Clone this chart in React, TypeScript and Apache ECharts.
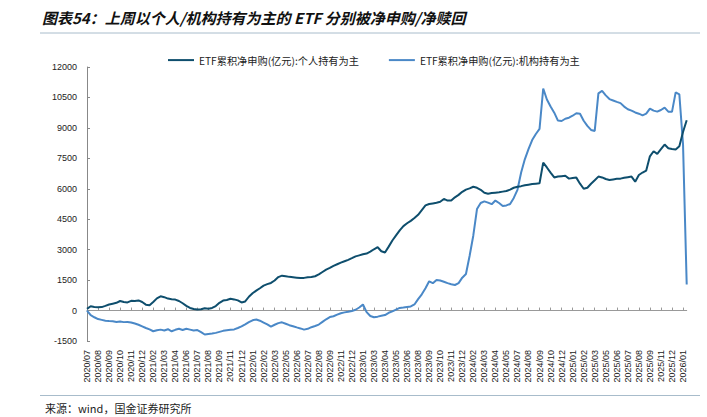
import React, { useEffect, useRef } from 'react';
import * as echarts from 'echarts';

const tickLabels: string[] = [
  '2020/07', '2020/08', '2020/09', '2020/10', '2020/11', '2020/12', '2021/02', '2021/03', '2021/04', '2021/06',
  '2021/07', '2021/08', '2021/09', '2021/11', '2021/12', '2022/01', '2022/02', '2022/03', '2022/05', '2022/06',
  '2022/07', '2022/08', '2022/09', '2022/11', '2022/12', '2023/01', '2023/03', '2023/04', '2023/05', '2023/06',
  '2023/08', '2023/09', '2023/10', '2023/11', '2023/12', '2024/02', '2024/03', '2024/04', '2024/05', '2024/07',
  '2024/08', '2024/09', '2024/10', '2024/12', '2025/01', '2025/02', '2025/03', '2025/05', '2025/06', '2025/07',
  '2025/08', '2025/09', '2025/11', '2025/12', '2026/01',
];

// ETF累积净申购(亿元):个人持有为主
const individual: number[] = [
  80, 210, 180, 160, 170, 230, 300, 340, 380, 470,
  420, 400, 480, 470, 500, 420, 290, 260, 420, 600,
  700, 660, 590, 560, 540, 470, 360, 230, 130, 80,
  50, 60, 110, 90, 130, 220, 380, 490, 520, 580,
  550, 500, 400, 450, 680, 850, 980, 1100, 1230, 1300,
  1360, 1480, 1650, 1720, 1690, 1660, 1640, 1620, 1600, 1610,
  1640, 1650, 1690, 1780, 1900, 2020, 2100, 2200, 2280, 2360,
  2430, 2500, 2580, 2670, 2720, 2770, 2810, 2900, 3020, 3120,
  2920, 2860, 3150, 3450, 3700, 3950, 4160, 4300, 4420, 4560,
  4720, 4950, 5180, 5250, 5280, 5310, 5360, 5500, 5420, 5420,
  5580, 5700, 5850, 5960, 6020, 6100, 6050, 5950, 5800, 5760,
  5790, 5810, 5830, 5860, 5890, 5960, 6050, 6100, 6130, 6170,
  6200, 6230, 6250, 6270, 7290, 7050, 6800, 6560, 6600, 6620,
  6640, 6500, 6530, 6550, 6250, 6000, 6050, 6250, 6420, 6600,
  6560, 6480, 6430, 6460, 6490, 6500, 6540, 6570, 6600, 6350,
  6680, 6800, 6900, 7600, 7850, 7720, 7950, 8180, 8000, 7960,
  7940, 8100, 8800, 9380,
];

// ETF累积净申购(亿元):机构持有为主
const institution: number[] = [
  0, -230, -330, -420, -460, -500, -520, -530, -560, -540,
  -570, -560, -590, -640, -700, -780, -860, -930, -1020, -970,
  -940, -980, -920, -1020, -950, -900, -960, -900, -940, -980,
  -960, -1060, -1180, -1150, -1130, -1100, -1050, -1000, -970, -950,
  -930, -860, -780, -680, -570, -480, -440, -500, -590, -680,
  -790, -700, -620, -580, -650, -720, -770, -830, -880, -940,
  -900, -820, -760, -690, -560, -430, -320, -280, -200, -130,
  -90, -60, -20, 40, 150, 300, -80, -270, -330, -300,
  -260, -220, -110, -40, 50, 130, 150, 180, 200, 300,
  560, 800, 1100, 1440, 1350, 1510, 1480, 1420, 1350, 1300,
  1260, 1350, 1620, 1800, 2700, 3700, 5000, 5300, 5380, 5320,
  5240, 5420, 5300, 5150, 5180, 5250, 5550, 5950, 6800, 7450,
  7950, 8400, 8700, 8950, 10940, 10400, 10050, 9750, 9360, 9340,
  9450, 9500, 9600, 9720, 9700, 9350, 9100, 8900, 8850, 10700,
  10820, 10600, 10420, 10350, 10280, 10220, 10050, 9920, 9850, 9760,
  9700, 9620, 9700, 9950, 9850, 9800, 9880, 10000, 9800, 9790,
  10750, 10650, 8200, 1280,
];

const seriesNames = ['ETF累积净申购(亿元):个人持有为主', 'ETF累积净申购(亿元):机构持有为主'];
const titleText = '图表54：上周以个人/机构持有为主的 ETF 分别被净申购/净赎回';
const sourceText = '来源：wind，国金证券研究所';

// three data points per labelled tick, one extra point after the last tick
const categories: string[] = [];
tickLabels.forEach((t, k) => {
  categories.push(t);
  if (k < tickLabels.length - 1) categories.push('', '');
});
categories.push('');

export default function App() {
  const ref = useRef<HTMLDivElement>(null);
  useEffect(() => {
    if (!ref.current) return;
    const chart = echarts.init(ref.current, undefined, { renderer: 'svg' });
    const font = '"Liberation Sans", Arial, "Noto Sans CJK SC", sans-serif';
    chart.setOption({
      animation: false,
      backgroundColor: '#ffffff',
      textStyle: { fontFamily: font },
      graphic: [
        {
          type: 'text',
          left: 42,
          top: 10,
          style: {
            text: titleText,
            font: 'italic bold 15px "Noto Sans CJK SC", sans-serif',
            fill: '#111',
          },
        },
        {
          type: 'line',
          shape: { x1: 40, y1: 33, x2: 700, y2: 33 },
          style: { stroke: '#a8bccb', lineWidth: 1 },
        },
        {
          type: 'line',
          shape: { x1: 40, y1: 395.5, x2: 700, y2: 395.5 },
          style: { stroke: '#a8bccb', lineWidth: 1 },
        },
        {
          type: 'text',
          left: 45,
          top: 402,
          style: {
            text: sourceText,
            font: '11px "Noto Sans CJK SC", sans-serif',
            fill: '#222',
          },
        },
      ],
      legend: {
        top: 50,
        left: 163,
        icon: 'rect',
        itemWidth: 26,
        itemHeight: 2,
        itemGap: 30,
        textStyle: { fontSize: 10.2, color: '#222', fontFamily: '"Noto Sans CJK SC", sans-serif' },
        data: seriesNames,
      },
      grid: { left: 87, right: 20.3, top: 67, bottom: 76 },
      xAxis: {
        type: 'category',
        boundaryGap: false,
        data: categories,
        axisLine: { onZero: true, lineStyle: { color: '#999', width: 1 } },
        axisTick: { inside: true, length: 3, interval: 2, lineStyle: { color: '#999' } },
        axisLabel: {
          interval: 2,
          rotate: 90,
          margin: 9,
          fontSize: 9,
          color: '#222',
          fontFamily: font,
        },
        splitLine: { show: false },
      },
      yAxis: {
        type: 'value',
        min: -1500,
        max: 12000,
        interval: 1500,
        axisLine: { show: true, lineStyle: { color: '#888', width: 1 } },
        axisTick: { show: true, inside: true, length: 3, lineStyle: { color: '#888' } },
        axisLabel: {
          fontSize: 9,
          color: '#222',
          margin: 10,
          fontFamily: font,
          formatter: (v: number) => String(v),
        },
        splitLine: { show: false },
      },
      series: [
        {
          name: seriesNames[0],
          type: 'line',
          data: individual,
          symbol: 'none',
          color: '#0e4e6d',
          lineStyle: { color: '#0e4e6d', width: 2 },
          z: 3,
        },
        {
          name: seriesNames[1],
          type: 'line',
          data: institution,
          symbol: 'none',
          color: '#4a88c7',
          lineStyle: { color: '#4a88c7', width: 2 },
          z: 2,
        },
      ],
    });
    return () => chart.dispose();
  }, []);
  return (
    <div
      ref={ref}
      style={{ position: 'absolute', left: 0, top: 0, width: 707, height: 417 }}
    />
  );
}
